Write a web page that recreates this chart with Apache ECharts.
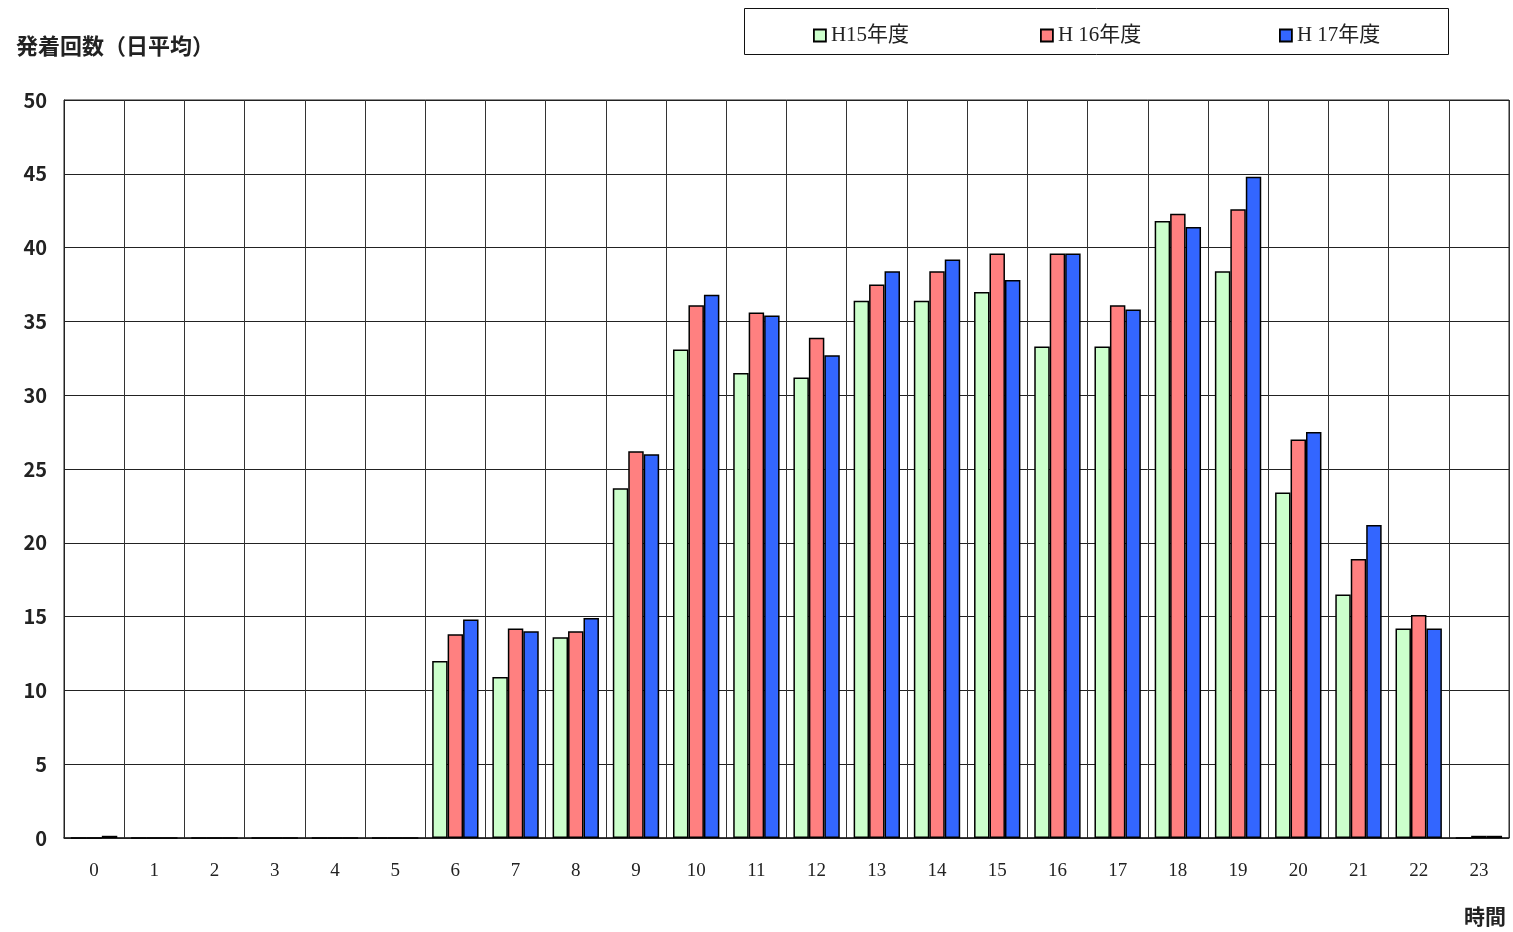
<!DOCTYPE html>
<html>
<head>
<meta charset="utf-8">
<script src="https://cdn.jsdelivr.net/npm/echarts@6/dist/echarts.min.js"></script>
<style>
  html, body { margin: 0; padding: 0; background: #fff; }
  #chart { width: 1513px; height: 932px; }
</style>
</head>
<body>
<div id="chart"></div>
<script>
// Hours of the day (category axis)
const hours = ['0','1','2','3','4','5','6','7','8','9','10','11','12','13','14','15','16','17','18','19','20','21','22','23'];

// Average daily movements per hour, by fiscal year
const h15 = [0, 0, 0, 0, 0, 0, 12.0, 10.9, 13.6, 23.7, 33.1, 31.5, 31.2, 36.4, 36.4, 37.0, 33.3, 33.3, 41.8, 38.4, 23.4, 16.5, 14.2, 0];
const h16 = [0, 0, 0, 0, 0, 0, 13.8, 14.2, 14.0, 26.2, 36.1, 35.6, 33.9, 37.5, 38.4, 39.6, 39.6, 36.1, 42.3, 42.6, 27.0, 18.9, 15.1, 0.15];
const h17 = [0.15, 0, 0, 0, 0, 0, 14.8, 14.0, 14.9, 26.0, 36.8, 35.4, 32.7, 38.4, 39.2, 37.8, 39.6, 35.8, 41.4, 44.8, 27.5, 21.2, 14.2, 0.15];

const seriesNames = ['H15年度', 'H 16年度', 'H 17年度'];
const seriesColors = ['#CCFFCC', '#FF8080', '#3366FF'];
const seriesData = [h15, h16, h17];

const serifFont = '"Liberation Serif", "DejaVu Serif", "Noto Sans CJK JP", serif';
const gothicFont = '"Noto Sans CJK JP", "DejaVu Sans", sans-serif';

const chart = echarts.init(document.getElementById('chart'));

const legendLefts = [808, 1035, 1274];

chart.setOption({
  animation: false,
  backgroundColor: '#fff',
  grid: { left: 64, right: 4, top: 100, bottom: 94, show: true, borderColor: '#222', borderWidth: 1 },
  legend: seriesNames.map((name, i) => ({
    data: [name],
    left: legendLefts[i],
    top: 20,
    icon: 'rect',
    itemWidth: 12,
    itemHeight: 12,
    itemStyle: { borderColor: '#000', borderWidth: 1.8 },
    textStyle: { fontFamily: serifFont, fontSize: 21, color: '#222' },
    selectedMode: false
  })),
  xAxis: {
    type: 'category',
    data: hours,
    axisLine: { lineStyle: { color: '#222', width: 1.5 } },
    axisTick: { show: false },
    splitLine: { show: true, interval: 0, lineStyle: { color: '#333', width: 1 } },
    axisLabel: { interval: 0, fontFamily: serifFont, fontSize: 19, color: '#222', margin: 24 }
  },
  yAxis: {
    type: 'value',
    min: 0,
    max: 50,
    interval: 5,
    axisLine: { show: true, lineStyle: { color: '#222', width: 1 } },
    axisTick: { show: false },
    splitLine: { lineStyle: { color: '#222', width: 1 } },
    axisLabel: { fontFamily: gothicFont, fontSize: 20, fontWeight: 'bold', color: '#222', margin: 17 }
  },
  graphic: [
    {
      type: 'rect',
      shape: { x: 744.5, y: 8.5, width: 704, height: 46 },
      style: { fill: 'none', stroke: '#111', lineWidth: 1 },
      silent: true
    },
    {
      type: 'text',
      left: 16,
      top: 35,
      style: { text: '発着回数（日平均）', font: 'bold 22px ' + gothicFont, fill: '#222' }
    },
    {
      type: 'text',
      left: 1464,
      top: 906,
      style: { text: '時間', font: 'bold 21px ' + gothicFont, fill: '#222' }
    }
  ],
  series: seriesNames.map((name, i) => ({
    name: name,
    type: 'bar',
    data: seriesData[i],
    barGap: '0%',
    barCategoryGap: '23%',
    itemStyle: { color: seriesColors[i], borderColor: '#000', borderWidth: 1.5 }
  }))
});
</script>
</body>
</html>
